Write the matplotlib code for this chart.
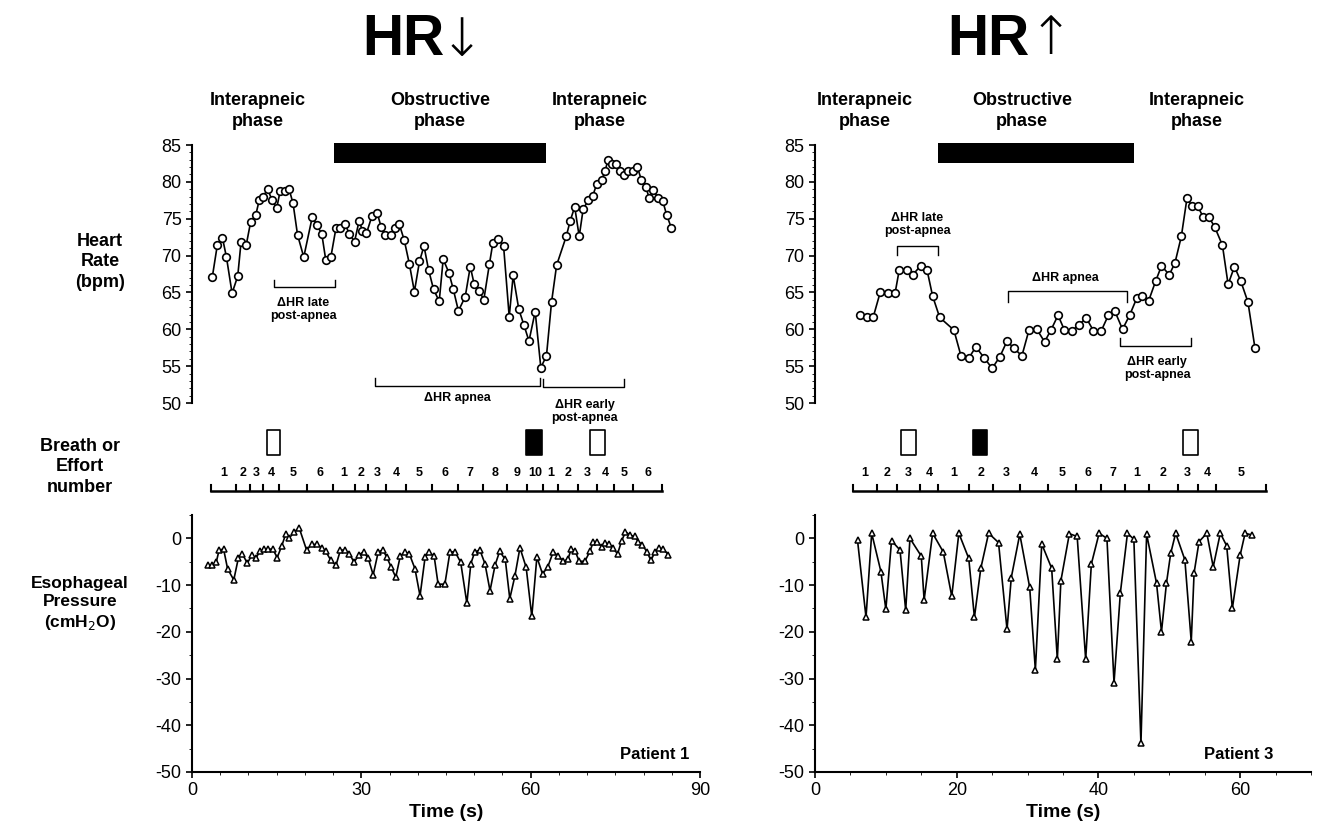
import matplotlib.pyplot as plt
from matplotlib.ticker import MultipleLocator

plt.rcParams['font.family'] = ['Liberation Sans', 'DejaVu Sans']
plt.rcParams['axes.unicode_minus'] = False

# ---------------- Patient 1 (HR falls) ----------------
p1_hr_t = [3.6, 4.5, 5.4, 6.1, 7.1, 8.1, 8.7, 9.6, 10.4, 11.3, 11.9, 12.6, 13.4, 14.2, 15.0,
           15.6, 16.5, 17.2, 17.9, 18.7, 19.8, 21.3, 22.1, 23.0, 23.7, 24.6, 25.5, 26.3, 27.1,
           27.9, 28.8, 29.6, 30.2, 30.9, 31.9, 32.8, 33.5, 34.2, 35.2, 36.0, 36.7, 37.6, 38.5,
           39.4, 40.3, 41.1, 41.9, 42.8, 43.8, 44.5, 45.5, 46.3, 47.2, 48.4, 49.3, 50.0, 50.9,
           51.7, 52.7, 53.3, 54.3, 55.2, 56.2, 56.9, 57.9, 58.8, 59.7, 60.8, 61.8, 62.8, 63.7,
           64.6, 66.3, 67.0, 67.8, 68.6, 69.3, 70.2, 71.0, 71.7, 72.6, 73.2, 73.7, 74.4, 75.1,
           75.8, 76.6, 77.3, 78.1, 78.9, 79.6, 80.4, 81.0, 81.7, 82.6, 83.4, 84.1, 84.9]
p1_hr = [67.1, 71.5, 72.4, 69.8, 64.9, 67.2, 71.9, 71.4, 74.6, 75.5, 77.5, 78.0, 79.0, 77.5, 76.4,
         78.7, 78.7, 79.0, 77.1, 72.8, 69.8, 75.2, 74.2, 72.9, 69.4, 69.8, 73.7, 73.7, 74.3,
         72.9, 71.9, 74.7, 73.4, 73.0, 75.4, 75.8, 73.9, 72.8, 72.8, 73.8, 74.3, 72.1, 68.9,
         65.1, 69.2, 71.3, 68.1, 65.4, 63.8, 69.5, 67.7, 65.4, 62.5, 64.4, 68.5, 66.1, 65.2,
         64.0, 68.9, 71.7, 72.2, 71.3, 61.7, 67.3, 62.7, 60.6, 58.4, 62.4, 54.8, 56.4, 63.7,
         68.7, 72.6, 74.7, 76.6, 72.6, 76.3, 77.5, 78.1, 79.7, 80.3, 81.5, 83.0, 82.4, 82.4,
         81.5, 80.9, 81.5, 81.5, 82.0, 80.3, 79.3, 77.8, 78.9, 77.8, 77.4, 75.5, 73.8]

p1_pes_t = [2.8, 3.6, 4.3, 4.8, 5.6, 6.3, 7.4, 8.2, 8.9, 9.8, 10.6, 11.3, 12.0, 12.8, 13.5, 14.3,
            15.1, 15.9, 16.6, 17.2, 18.1, 19.0, 20.3, 21.2, 22.1, 23.0, 23.7, 24.6, 25.5, 26.3,
            27.1, 27.9, 28.7, 29.6, 30.4, 31.2, 32.1, 33.0, 33.8, 34.5, 35.3, 36.1, 36.9, 37.7,
            38.5, 39.5, 40.4, 41.3, 42.0, 42.9, 43.6, 44.8, 45.7, 46.6, 47.6, 48.7, 49.4, 50.1,
            51.0, 51.9, 52.8, 53.7, 54.5, 55.5, 56.3, 57.2, 58.1, 59.2, 60.2, 61.1, 62.1, 63.0,
            64.0, 64.9, 65.8, 66.6, 67.2, 67.9, 68.6, 69.6, 70.5, 71.1, 71.8, 72.6, 73.2, 73.9,
            74.5, 75.4, 76.1, 76.8, 77.6, 78.4, 79.1, 79.8, 80.6, 81.3, 82.0, 82.8, 83.5, 84.4]
p1_pes = [-5.8, -5.6, -5.1, -2.5, -2.3, -6.5, -8.9, -4.3, -3.3, -5.3, -3.6, -4.3, -2.8, -2.3,
          -2.3, -2.3, -4.1, -1.6, 0.9, 0.0, 1.4, 2.2, -2.5, -1.3, -1.3, -2.0, -2.8, -4.7, -5.8,
          -2.5, -2.5, -3.3, -5.1, -3.5, -2.9, -4.2, -7.8, -2.9, -2.5, -4.0, -6.2, -8.3, -3.8,
          -2.9, -3.3, -6.5, -12.3, -4.0, -3.0, -3.8, -9.8, -9.8, -2.9, -2.9, -5.1, -13.9, -5.4,
          -2.9, -2.5, -5.4, -11.2, -5.7, -2.8, -4.5, -12.9, -8.1, -2.0, -6.2, -16.7, -4.0, -7.6,
          -6.2, -2.9, -3.8, -4.9, -4.5, -2.2, -2.8, -4.9, -4.9, -2.8, -0.7, -0.7, -1.8, -0.9,
          -1.3, -2.0, -3.3, -0.6, 1.4, 0.7, 0.4, -0.7, -1.4, -2.9, -4.7, -3.0, -2.0, -2.3, -3.5]

p1_breath_edges = [3.3, 7.8, 10.3, 12.5, 15.5, 20.3, 24.9, 28.9, 31.1, 34.4, 38.0, 42.6, 47.1,
                   51.5, 55.8, 59.3, 62.2, 64.9, 68.4, 71.8, 74.8, 78.2, 83.2]
p1_breath_nums = ['1', '2', '3', '4', '5', '6', '1', '2', '3', '4', '5', '6', '7', '8', '9', '10',
                  '1', '2', '3', '4', '5', '6']
p1_boxes = [(13.2, 15.6, False), (59.2, 62.0, True), (70.5, 73.2, False)]
p1_obstructive = (25.2, 62.7)

# ---------------- Patient 3 (HR rises) ----------------
p3_hr_t = [6.3, 7.3, 8.2, 9.2, 10.3, 11.3, 11.9, 13.0, 13.8, 14.9, 15.8, 16.6, 17.6, 19.6, 20.6,
           21.7, 22.7, 23.9, 25.0, 26.1, 27.1, 28.1, 29.2, 30.2, 31.3, 32.4, 33.3, 34.3, 35.2,
           36.3, 37.2, 38.3, 39.3, 40.4, 41.4, 42.3, 43.4, 44.4, 45.4, 46.2, 47.1, 48.1, 48.9,
           50.0, 50.8, 51.7, 52.5, 53.2, 54.0, 54.8, 55.6, 56.4, 57.5, 58.3, 59.2, 60.1, 61.1, 62.1]
p3_hr = [61.9, 61.6, 61.6, 65.0, 64.9, 64.9, 68.1, 68.1, 67.4, 68.6, 68.1, 64.5, 61.6, 59.9, 56.4,
         56.1, 57.6, 56.1, 54.7, 56.3, 58.4, 57.4, 56.4, 59.9, 60.0, 58.3, 59.9, 61.9, 59.9,
         59.8, 60.6, 61.5, 59.8, 59.8, 61.9, 62.5, 60.0, 61.9, 64.2, 64.5, 63.9, 66.6, 68.6,
         67.4, 69.0, 72.6, 77.8, 76.7, 76.7, 75.2, 75.2, 73.9, 71.4, 66.1, 68.5, 66.5, 63.7, 57.4]

p3_pes_t = [6.0, 7.2, 8.0, 9.3, 10.0, 10.8, 12.0, 12.8, 13.4, 15.0, 15.4, 16.6, 18.1, 19.3, 20.3,
            21.7, 22.5, 23.4, 24.5, 25.9, 27.1, 27.7, 28.9, 30.3, 31.1, 32.0, 33.4, 34.2, 34.7,
            35.9, 37.0, 38.2, 39.0, 40.1, 41.2, 42.2, 43.1, 44.1, 45.0, 46.0, 46.8, 48.2, 48.9,
            49.6, 50.2, 50.9, 52.2, 53.1, 53.5, 54.2, 55.3, 56.2, 57.2, 58.1, 58.9, 60.0, 60.7, 61.7]
p3_pes = [-0.4, -16.9, 1.1, -7.1, -15.2, -0.5, -2.5, -15.4, 0.0, -3.8, -13.2, 1.1, -2.9, -12.4,
          1.1, -4.3, -16.9, -6.4, 1.1, -0.9, -19.5, -8.4, 0.9, -10.5, -28.2, -1.2, -6.4, -25.9,
          -9.1, 1.0, 0.4, -25.9, -5.5, 1.1, 0.0, -30.9, -11.6, 1.1, -0.2, -43.9, 0.9, -9.6, -20.0,
          -9.6, -3.2, 1.1, -4.6, -22.1, -7.4, -0.7, 1.1, -6.1, 1.1, -1.6, -15.0, -3.6, 1.1, 0.7]

p3_breath_edges = [5.4, 8.7, 11.6, 14.8, 17.4, 21.7, 25.1, 28.9, 32.9, 36.8, 40.3, 43.8, 47.1,
                   51.2, 54.0, 56.6, 63.6]
p3_breath_nums = ['1', '2', '3', '4', '1', '2', '3', '4', '5', '6', '7', '1', '2', '3', '4', '5']
p3_boxes = [(12.1, 14.3, False), (22.3, 24.3, True), (52.0, 54.0, False)]
p3_obstructive = (17.3, 45.0)

# bracket annotations: (t0, t1, level, tip, label, text_t, text_y)
p1_brackets = [(14.5, 25.3, 65.7, 66.7, 'ΔHR late\npost-apnea', 19.7, 62.7),
               (32.4, 61.7, 52.3, 53.4, 'ΔHR apnea', 47.1, 50.7),
               (62.2, 76.6, 52.2, 53.3, 'ΔHR early\npost-apnea', 69.6, 48.8)]
p3_brackets = [(11.6, 17.4, 71.3, 70.1, 'ΔHR late\npost-apnea', 14.4, 74.2),
               (27.2, 44.1, 65.2, 63.7, 'ΔHR apnea', 35.4, 67.0),
               (43.1, 53.0, 57.7, 58.8, 'ΔHR early\npost-apnea', 48.3, 54.7)]

W, H = 1318, 832
fig = plt.figure(figsize=(W / 100, H / 100), dpi=100)


def fx(px):
    return px / W


def fy(py):
    return 1 - py / H


def draw_patient(x0, x1, xmax, xmajor, hr_t, hr, pes_t, pes, edges, nums, boxes,
                 obstr, brackets, patient, patient_x):
    left, width = fx(x0), fx(x1) - fx(x0)

    # heart rate panel
    ax = fig.add_axes([left, fy(403), width, fy(145) - fy(403)])
    ax.plot(hr_t, hr, '-o', color='black', lw=1.2, ms=5.5, mfc='white', mec='black', mew=1.2)
    ax.set_xlim(0, xmax)
    ax.set_ylim(50, 85)
    ax.yaxis.set_major_locator(MultipleLocator(5))
    ax.yaxis.set_minor_locator(MultipleLocator(1))
    ax.tick_params(axis='y', labelsize=13, width=1.2, length=4)
    ax.tick_params(axis='y', which='minor', length=2)
    ax.set_xticks([])
    for s in ['top', 'right', 'bottom']:
        ax.spines[s].set_visible(False)
    ax.spines['left'].set_linewidth(1.5)
    ax.fill_between(obstr, 82.6, 85.3, color='black', lw=0, clip_on=False)
    for t0, t1, lev, tip, lab, tt, ty in brackets:
        ax.plot([t0, t0, t1, t1], [tip, lev, lev, tip], color='black', lw=1, clip_on=False)
        ax.text(tt, ty, lab, ha='center', va='center', fontsize=9, fontweight='bold',
                linespacing=1.1)

    # breath / effort row
    rx = fig.add_axes([left, fy(500), width, fy(420) - fy(500)])
    rx.set_xlim(0, xmax)
    rx.set_ylim(0, 80)
    rx.axis('off')
    rx.plot([edges[0], edges[-1]], [9, 9], color='black', lw=1.8)
    for e in edges:
        rx.plot([e, e], [9, 15], color='black', lw=1.5)
    for i, n in enumerate(nums):
        rx.text((edges[i] + edges[i + 1]) / 2, 27, n, ha='center', va='center',
                fontsize=9, fontweight='bold')
    for b0, b1, filled in boxes:
        rx.fill_between([b0, b1], 45, 70, facecolor='black' if filled else 'white',
                        edgecolor='black', lw=1.2)

    # esophageal pressure panel
    px = fig.add_axes([left, fy(772), width, fy(515) - fy(772)])
    px.plot(pes_t, pes, '-^', color='black', lw=1.2, ms=5, mfc='white', mec='black', mew=1.1)
    px.set_xlim(0, xmax)
    px.set_ylim(-50, 5)
    px.xaxis.set_major_locator(MultipleLocator(xmajor))
    px.xaxis.set_minor_locator(MultipleLocator(5))
    px.yaxis.set_major_locator(MultipleLocator(10))
    px.yaxis.set_minor_locator(MultipleLocator(5))
    px.tick_params(labelsize=13, width=1.2, length=4)
    px.tick_params(which='minor', length=2.5)
    for s in ['top', 'right']:
        px.spines[s].set_visible(False)
    for s in ['left', 'bottom']:
        px.spines[s].set_linewidth(1.5)
    px.set_xlabel('Time (s)', fontsize=14, fontweight='bold', labelpad=3)
    px.text(patient_x, 0.07, patient, transform=px.transAxes,
            ha='right', va='center', fontsize=12, fontweight='bold')


draw_patient(192, 700, 90, 30, p1_hr_t, p1_hr, p1_pes_t, p1_pes, p1_breath_edges,
             p1_breath_nums, p1_boxes, p1_obstructive, p1_brackets, 'Patient 1', 0.98)
draw_patient(815, 1311, 70, 20, p3_hr_t, p3_hr, p3_pes_t, p3_pes, p3_breath_edges,
             p3_breath_nums, p3_boxes, p3_obstructive, p3_brackets, 'Patient 3', 0.925)

# titles
fig.text(fx(403), fy(40), 'HR', ha='center', va='center', fontsize=41, fontweight='bold')
fig.text(fx(462), fy(41), '↓', ha='center', va='center', fontsize=38,
         family=['DejaVu Sans'], fontweight='light')
fig.text(fx(988), fy(40), 'HR', ha='center', va='center', fontsize=41, fontweight='bold')
fig.text(fx(1051), fy(39), '↑', ha='center', va='center', fontsize=38,
         family=['DejaVu Sans'], fontweight='light')

# phase labels
phase_x = [258, 440, 600, 865, 1022, 1197]
phase_names = ['Interapneic\nphase', 'Obstructive\nphase', 'Interapneic\nphase',
               'Interapneic\nphase', 'Obstructive\nphase', 'Interapneic\nphase']
for xc, lab in zip(phase_x, phase_names):
    fig.text(fx(xc), fy(111), lab, ha='center', va='center', fontsize=13,
             fontweight='bold', linespacing=1.25)

# row labels
fig.text(fx(100), fy(262), 'Heart\nRate\n(bpm)', ha='center', va='center', fontsize=13,
         fontweight='bold', linespacing=1.25)
fig.text(fx(80), fy(467), 'Breath or\nEffort\nnumber', ha='center', va='center', fontsize=13,
         fontweight='bold', linespacing=1.25)
fig.text(fx(80), fy(604), 'Esophageal\nPressure\n(cmH$_2$O)', ha='center', va='center',
         fontsize=12.5, fontweight='bold', linespacing=1.25)

fig.savefig('out.png', dpi=100)
